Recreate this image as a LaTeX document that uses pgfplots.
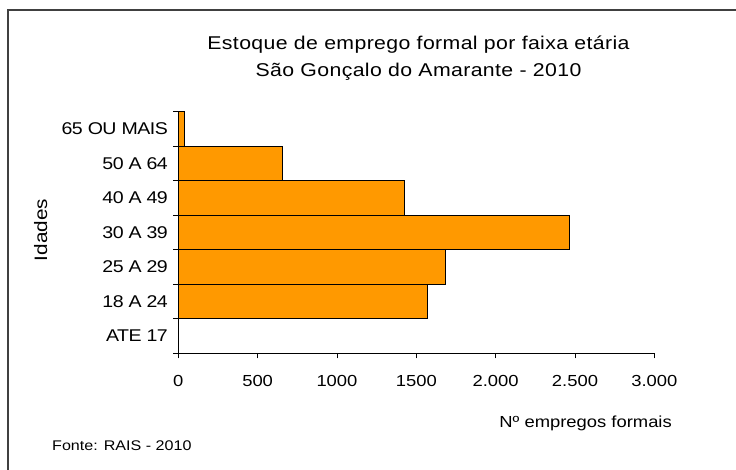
\documentclass[border=0pt]{standalone}
\usepackage{fontspec}
\setmainfont{Liberation Sans}[FakeStretch=1.15]
\newfontfamily\titlefont{Liberation Sans}[FakeStretch=1.15, LetterSpace=2]
\newfontfamily\tightfont{Liberation Sans}[FakeStretch=1.15, LetterSpace=-3]
\usepackage{pgfplots}
\pgfplotsset{compat=1.18}
\definecolor{barorange}{RGB}{255,153,0}
\begin{document}
\begin{tikzpicture}[x=1bp,y=1bp]
\useasboundingbox (0,0) rectangle (736,470);
\fill[white] (0,0) rectangle (736,470);
\draw[black!75, line width=1.3bp] (8,0) -- (8,460) -- (736,460);
\node[anchor=base, inner sep=0pt, font=\titlefont\fontsize{18.5bp}{20bp}\selectfont] at (418.5,420) {Estoque de emprego formal por faixa etária};
\node[anchor=base, inner sep=0pt, font=\titlefont\fontsize{18.5bp}{20bp}\selectfont] at (418.5,393.3) {São Gonçalo do Amarante - 2010};
\node[rotate=90, inner sep=0pt, font=\fontsize{18bp}{20bp}\selectfont] at (40.7,240) {Idades};
\node[anchor=base east, inner sep=0pt, font=\fontsize{16bp}{18bp}\selectfont] at (672,42) {Nº empregos formais};
\node[anchor=base west, inner sep=0pt, font=\fontsize{14bp}{16bp}\selectfont] at (52,19) {Fonte: RAIS - 2010};
\begin{axis}[
  at={(178.3bp,116.7bp)}, anchor=south west,
  width=476bp, height=241.6bp, scale only axis,
  xmin=0, xmax=3000, ymin=-0.5, ymax=6.5,
  axis x line*=bottom, axis y line*=left,
  xtick={0,500,1000,1500,2000,2500,3000},
  xticklabels={0,500,1000,1500,2.000,2.500,3.000},
  ytick={-0.5,0.5,1.5,2.5,3.5,4.5,5.5,6.5},
  yticklabels={ATE 17,18 A 24,25 A 29,30 A 39,40 A 49,50 A 64,65 OU MAIS,{}},
  yticklabel style={yshift=17.25bp, xshift=-2bp, font=\tightfont\fontsize{17bp}{19bp}\selectfont},
  xticklabel style={yshift=-14bp, font=\fontsize{16bp}{18bp}\selectfont},
  tick align=outside, major tick length=5bp,
  axis line style={black, line width=0.8bp},
  tick style={black, line width=0.8bp},
  clip=false,
]
\addplot[xbar, bar width=1, fill=barorange, draw=black, line width=0.7bp]
  coordinates {(1572,1) (1685,2) (2465,3) (1422,4) (657,5) (36,6)};
\end{axis}
\end{tikzpicture}
\end{document}
